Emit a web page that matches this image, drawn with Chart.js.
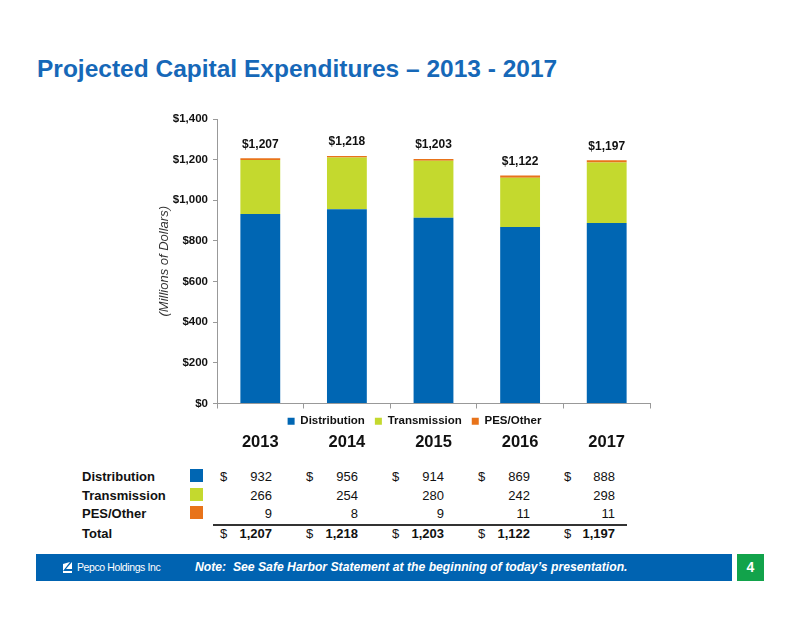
<!DOCTYPE html>
<html>
<head>
<meta charset="utf-8">
<script src="https://cdn.jsdelivr.net/npm/chart.js@4.4.1/dist/chart.umd.min.js"></script>
<style>
  html, body { margin: 0; padding: 0; background: #fff; }
  body {
    width: 800px; height: 618px; position: relative; overflow: hidden;
    font-family: "Liberation Sans", Arial, sans-serif; color: #111;
  }
  #title {
    position: absolute; left: 37px; top: 55px; margin: 0;
    font-size: 24.5px; font-weight: bold; color: #1668b8; white-space: nowrap;
  }
  #chart-box { position: absolute; left: 153px; top: 100px; width: 507px; height: 340px; }
  .abs { position: absolute; white-space: nowrap; line-height: 1; }
  .year { font-size: 16.5px; font-weight: bold; transform: translate(-50%, -50%); }
  .row-label { font-size: 13px; font-weight: bold; transform: translateY(-50%); }
  .cell { font-size: 13px; transform: translateY(-50%); }
  .num { transform: translate(-100%, -50%); }
  .bold { font-weight: bold; }
  .swatch { width: 13px; height: 13px; }
  #total-rule { position: absolute; left: 213px; top: 524px; width: 414px; height: 2px; background: #333; }
  #footer { position: absolute; left: 36px; top: 554px; width: 696px; height: 27px; background: #0063b1; }
  #page-num {
    position: absolute; left: 737px; top: 554px; width: 27px; height: 27px; background: #12a34b;
    color: #fff; font-weight: bold; font-size: 14px; text-align: center; line-height: 27px;
  }
  #logo { position: absolute; left: 27px; top: 8px; }
  #logo-text {
    position: absolute; left: 41px; top: 8px; color: #fff; font-size: 10.5px;
    letter-spacing: -0.4px; line-height: 11px;
  }
  #note {
    position: absolute; left: 159px; top: 7px; color: #fff; font-size: 12.2px;
    font-weight: bold; font-style: italic; line-height: 13px; white-space: nowrap;
  }
</style>
</head>
<body>
<h1 id="title">Projected Capital Expenditures – 2013 - 2017</h1>
<div id="chart-box"><canvas id="capexChart"></canvas></div>
<div id="table-area"></div>
<div id="total-rule"></div>
<div id="footer">
  <svg id="logo" width="9" height="11" viewBox="0 0 9 11"><polygon points="0,11 0,2 7,0 0,9 9,9 9,11" fill="#fff"/><polygon points="9,0 9,7 3,7" fill="#fff"/></svg>
  <div id="logo-text">Pepco Holdings Inc</div>
  <div id="note">Note:&nbsp; See Safe Harbor Statement at the beginning of today’s presentation.</div>
</div>
<div id="page-num">4</div>
<script>
const years = ["2013", "2014", "2015", "2016", "2017"];
const seriesNames = ["Distribution", "Transmission", "PES/Other"];
const distribution = [932, 956, 914, 869, 888];
const transmission = [266, 254, 280, 242, 298];
const pesOther = [9, 8, 9, 11, 11];
const totals = [1207, 1218, 1203, 1122, 1197];
const yTicks = [0, 200, 400, 600, 800, 1000, 1200, 1400];
const seriesColors = ["#0066b3", "#c4d92e", "#e8731a"];

const FONT = '"Liberation Sans", Arial, sans-serif';

function money(v) {
  return "$" + v.toLocaleString("en-US");
}

const totalLabels = {
  id: "totalLabels",
  afterDatasetsDraw(chart) {
    const { ctx } = chart;
    const topMeta = chart.getDatasetMeta(chart.data.datasets.length - 1);
    ctx.save();
    ctx.font = "bold 12px " + FONT;
    ctx.fillStyle = "#111";
    ctx.textAlign = "center";
    ctx.textBaseline = "middle";
    topMeta.data.forEach((bar, i) => {
      ctx.fillText(money(totals[i]), bar.x, bar.y - 14);
    });
    ctx.restore();
  },
};

// nudge the legend a bit right and up, like the slide
const legendNudge = {
  id: "legendNudge",
  afterLayout(chart) {
    const lg = chart.legend;
    lg.left += 13;
    lg.right += 13;
    lg.top -= 3;
    lg.bottom -= 3;
  },
};

const seriesValues = [distribution, transmission, pesOther];

const chart = new Chart(document.getElementById("capexChart"), {
  type: "bar",
  data: {
    labels: years,
    datasets: seriesNames.map((name, i) => ({
      label: name,
      data: seriesValues[i],
      backgroundColor: seriesColors[i],
      categoryPercentage: 1,
      barPercentage: 0.46,
    })),
  },
  options: {
    responsive: true,
    maintainAspectRatio: false,
    animation: false,
    layout: { padding: { top: 19, right: 10, left: 0, bottom: 0 } },
    scales: {
      x: {
        stacked: true,
        ticks: { display: false },
        grid: { offset: true, drawOnChartArea: false, drawTicks: true, tickLength: 5, color: "#999" },
        border: { color: "#999" },
        afterFit: (s) => { s.height = 5; },
      },
      y: {
        stacked: true,
        min: 0,
        max: 1400,
        afterBuildTicks: (s) => { s.ticks = yTicks.map((v) => ({ value: v })); },
        ticks: {
          callback: (v) => money(v),
          font: { family: FONT, weight: "bold", size: 11.5 },
          color: "#111",
          padding: 5,
        },
        grid: { drawOnChartArea: false, drawTicks: true, tickLength: 4, color: "#999" },
        border: { color: "#999" },
        title: {
          display: true,
          text: "(Millions of Dollars)",
          font: { family: FONT, style: "italic", size: 13 },
          color: "#333",
        },
        afterFit: (s) => { s.width = 64; },
      },
    },
    plugins: {
      legend: {
        position: "bottom",
        labels: {
          boxWidth: 7,
          boxHeight: 7,
          padding: 10,
          color: "#111",
          font: { family: FONT, weight: "bold", size: 11.5 },
        },
      },
      tooltip: { enabled: false },
    },
  },
  plugins: [totalLabels, legendNudge],
});

// year headings + table below the chart
const area = document.getElementById("table-area");
const box = document.getElementById("chart-box");
const xScale = chart.scales.x;
const boxLeft = box.offsetLeft;

function addEl(cls, text, x, y, extra) {
  const el = document.createElement("div");
  el.className = "abs " + cls;
  el.textContent = text;
  el.style.left = x + "px";
  el.style.top = y + "px";
  if (extra) Object.assign(el.style, extra);
  area.appendChild(el);
  return el;
}

years.forEach((yr, i) => {
  addEl("year", yr, boxLeft + xScale.getPixelForValue(i), 441);
});

const rowY = [476, 495, 513, 533];
const dollarX = [220, 306, 392, 478, 564];
const numRightX = [272, 358, 444, 530, 615];

seriesNames.forEach((name, r) => {
  addEl("row-label", name, 82, rowY[r]);
  addEl("swatch", "", 190, rowY[r] - 7, { background: seriesColors[r] });
  seriesValues[r].forEach((v, c) => {
    if (r === 0) addEl("cell", "$", dollarX[c], rowY[r]);
    addEl("cell num", v.toLocaleString("en-US"), numRightX[c], rowY[r]);
  });
});

addEl("row-label", "Total", 82, rowY[3]);
totals.forEach((v, c) => {
  addEl("cell", "$", dollarX[c], rowY[3]);
  addEl("cell num bold", v.toLocaleString("en-US"), numRightX[c], rowY[3]);
});
</script>
</body>
</html>
